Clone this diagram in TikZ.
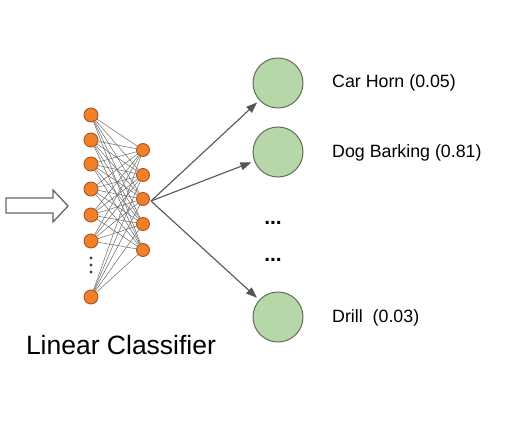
\documentclass[tikz,border=0pt]{standalone}
\usepackage{fontspec}
\setmainfont{Liberation Sans}
\usetikzlibrary{arrows.meta,backgrounds}
\definecolor{orangefill}{HTML}{F0802A}
\definecolor{orangeline}{HTML}{A8561C}
\definecolor{greenfill}{HTML}{B6D7A8}
\definecolor{greenline}{HTML}{5E6E5A}
\definecolor{edgegray}{HTML}{6A6A6A}
\definecolor{arrowgray}{HTML}{555555}
\begin{document}
\begin{tikzpicture}[x=1pt,y=-1pt,
  inp/.style={circle,fill=orangefill,draw=orangeline,line width=0.9pt,minimum size=14pt,inner sep=0pt},
  hid/.style={circle,fill=orangefill,draw=orangeline,line width=0.9pt,minimum size=13pt,inner sep=0pt},
  edge/.style={draw=edgegray,line width=0.5pt},
  outc/.style={circle,fill=greenfill,draw=greenline,line width=1pt,minimum size=50pt,inner sep=0pt},
  outarrow/.style={draw=arrowgray,line width=1.1pt,-{Triangle[length=11pt,width=8pt]},shorten >=3pt},
  lab/.style={anchor=west,inner sep=0pt,font=\fontsize{17.8}{21}\selectfont},
  dotbox/.style={inner sep=0pt,font=\fontsize{21}{24}\selectfont\bfseries},
  vdot/.style={circle,fill=black!75,minimum size=3.4pt,inner sep=0pt},
  hollow/.style={draw=black!60,line width=1.3pt,fill=white,line join=miter}
]
\useasboundingbox (0,0) rectangle (517,425);

% input layer
\foreach \i/\y in {1/115,2/140,3/164,4/189,5/215,6/241,7/297}
  \node[inp] (i\i) at (91,\y) {};
% second layer
\foreach \j/\y in {1/150,2/175,3/199,4/224,5/250}
  \node[hid] (h\j) at (143,\y) {};
% full connections
\begin{scope}[on background layer]
\foreach \i in {1,...,7}
  \foreach \j in {1,...,5}
    \draw[edge] (i\i) -- (h\j);
\end{scope}
% vertical dots
\node[vdot] (vd1) at (91,258) {};
\node[vdot] (vd2) at (91,265) {};
\node[vdot] (vd3) at (91,272) {};

% hollow input arrow
\draw[hollow] (6,198) -- (53,198) -- (53,190) -- (68,206) -- (53,222) -- (53,213) -- (6,213) -- cycle;

% output classes
\node[outc] (c1) at (278,83) {};
\node[outc] (c2) at (278,152) {};
\node[outc] (c3) at (278,317) {};
\node[dotbox] (d1) at (273,223) {...};
\node[dotbox] (d2) at (273,260) {...};

\coordinate (src) at (151,201);
\draw[outarrow] (src) -- (c1);
\draw[outarrow] (src) -- (c2);
\draw[outarrow] (src) -- (c3);

% labels
\node[lab] (l1) at (332,83) {Car Horn (0.05)};
\node[lab] (l2) at (332,153) {Dog Barking (0.81)};
\node[lab] (l3) at (332,318) {Drill\ \ (0.03)};
\node[inner sep=0pt,font=\fontsize{26.5}{31}\selectfont] (lc) at (121,345) {Linear Classifier};
\end{tikzpicture}
\end{document}
